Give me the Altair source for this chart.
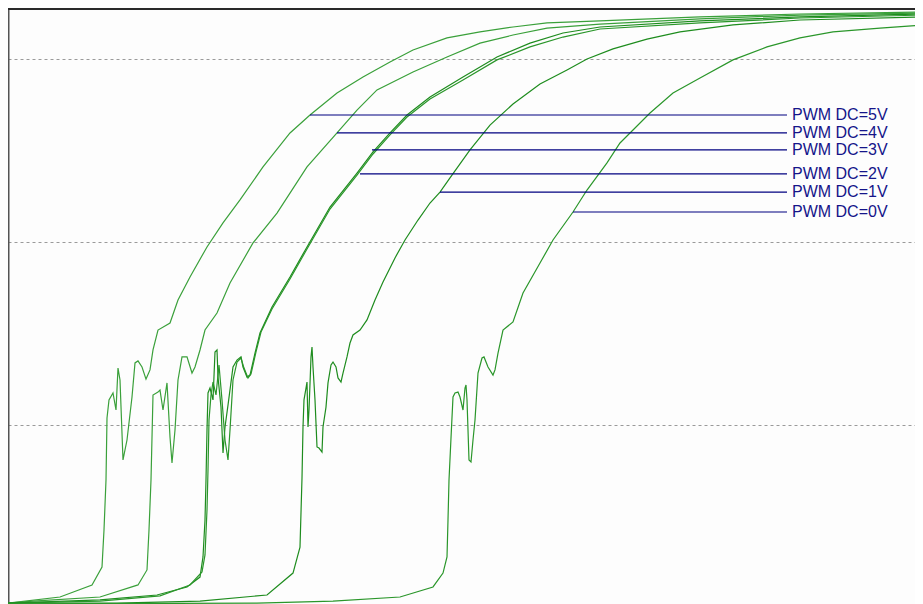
import altair as alt
import pandas as pd

# ---- data (time in ms, voltage in V) ----
series = ["PWM DC=5V", "PWM DC=4V", "PWM DC=3V", "PWM DC=2V", "PWM DC=1V", "PWM DC=0V"]

t_5v = [0.0, 5.2, 8.4, 9.4, 9.6, 9.8, 9.9, 10.1, 10.5, 10.8, 11.0, 11.2, 11.5, 11.9, 12.4, 12.7, 13.0, 13.4, 13.8, 14.2, 14.5, 15.0,
        16.2, 17.0, 18.2, 19.9, 21.5, 23.2, 25.5, 28.2, 30.2, 32.9, 35.5, 38.2, 40.5, 43.9, 47.2, 50.5, 53.9, 59.2, 69.2, 79.2, 91.5]
v_5v = [0.027, 0.060, 0.126, 0.224, 0.426, 0.699, 1.038, 1.137, 1.175, 1.082, 1.311, 1.246, 0.809, 0.918, 1.153, 1.339, 1.350, 1.317, 1.251, 1.301, 1.410, 1.519,
        1.557, 1.683, 1.809, 1.973, 2.104, 2.230, 2.410, 2.596, 2.694, 2.814, 2.902, 2.984, 3.049, 3.115, 3.148, 3.175, 3.197, 3.208, 3.230, 3.246, 3.257]

t_4v = [0.0, 2.5, 9.2, 13.0, 13.9, 14.1, 14.3, 14.5, 15.0, 15.2, 15.5, 15.9, 16.2, 16.4, 16.7, 17.0, 17.4, 17.9, 18.4, 18.7, 19.2, 19.7,
        20.9, 22.2, 24.5, 26.9, 29.9, 32.9, 34.9, 36.9, 40.5, 43.9, 47.2, 50.5, 53.9, 59.2, 69.2, 79.2, 91.5]
v_4v = [0.027, 0.038, 0.060, 0.126, 0.208, 0.426, 0.699, 1.164, 1.180, 1.191, 1.082, 1.230, 0.934, 0.792, 0.973, 1.246, 1.372, 1.372, 1.284, 1.317, 1.410, 1.519,
        1.612, 1.776, 1.995, 2.158, 2.410, 2.596, 2.721, 2.831, 2.929, 3.011, 3.087, 3.131, 3.169, 3.191, 3.219, 3.240, 3.251]

t_3v = [0.0, 9.2, 14.9, 17.9, 19.2, 19.5, 19.7, 19.8, 19.9, 20.0, 20.2, 20.5, 20.7, 20.9, 21.0, 21.3, 21.5, 21.7, 22.0, 22.5, 22.9, 23.3,
        23.5, 23.9, 24.2, 24.7, 25.2, 26.4, 28.2, 29.9, 32.2, 34.9, 36.5, 38.2, 39.9, 42.2, 45.5, 48.9, 52.2, 55.5, 59.2, 69.2, 79.2, 91.5]
v_3v = [0.027, 0.044, 0.071, 0.115, 0.169, 0.279, 0.481, 0.699, 0.973, 1.175, 1.202, 1.137, 1.399, 1.410, 1.262, 1.098, 0.847, 0.989, 1.109, 1.317, 1.355, 1.372,
        1.317, 1.262, 1.273, 1.393, 1.503, 1.645, 1.809, 1.973, 2.191, 2.377, 2.492, 2.596, 2.694, 2.792, 2.902, 3.011, 3.087, 3.142, 3.175, 3.208, 3.230, 3.246]

t_2v = [0.0, 9.2, 15.2, 18.2, 19.4, 19.7, 19.9, 20.0, 20.1, 20.3, 20.5, 20.8, 21.1, 21.4, 21.7, 22.0, 22.2, 22.5, 22.9, 23.3, 23.6, 24.0,
        24.3, 24.8, 25.3, 26.4, 28.2, 29.9, 32.2, 34.9, 36.5, 38.2, 39.9, 42.2, 45.5, 48.9, 52.2, 55.5, 59.2, 69.2, 79.2, 91.5]
v_2v = [0.027, 0.038, 0.066, 0.126, 0.197, 0.290, 0.536, 0.754, 1.027, 1.164, 1.235, 1.164, 1.328, 1.137, 0.918, 0.809, 0.973, 1.246, 1.344, 1.366, 1.311, 1.257,
        1.279, 1.399, 1.508, 1.634, 1.798, 1.962, 2.180, 2.366, 2.481, 2.585, 2.683, 2.781, 2.885, 2.995, 3.066, 3.120, 3.164, 3.197, 3.224, 3.240]

t_1v = [0.0, 10.9, 19.2, 25.9, 28.5, 29.2, 29.4, 29.5, 29.6, 29.8, 29.9, 30.0, 30.1, 30.3, 30.4, 30.5, 30.7, 30.9, 31.1, 31.4, 31.5, 31.8,
        32.0, 32.3, 32.5, 32.8, 33.0, 33.3, 33.5, 33.9, 34.2, 34.5, 35.2, 35.9, 36.7, 37.5, 38.7, 39.7, 41.0, 42.2, 43.2, 44.2, 46.2, 48.2,
        50.5, 53.2, 55.9, 57.9, 60.5, 63.9, 67.2, 72.5, 79.2, 91.5]
v_1v = [0.027, 0.027, 0.038, 0.071, 0.191, 0.333, 0.710, 0.989, 1.137, 1.202, 1.235, 0.989, 1.082, 1.372, 1.426, 1.317, 1.137, 0.880, 0.874, 0.852, 0.989, 1.098,
        1.230, 1.328, 1.344, 1.317, 1.257, 1.235, 1.284, 1.372, 1.448, 1.492, 1.519, 1.574, 1.683, 1.781, 1.913, 2.011, 2.120, 2.213, 2.273, 2.350, 2.503, 2.639,
        2.754, 2.863, 2.940, 3.000, 3.055, 3.109, 3.148, 3.186, 3.213, 3.230]

t_0v = [0.0, 24.9, 32.5, 39.2, 42.5, 43.5, 43.9, 44.0, 44.1, 44.3, 44.5, 44.7, 45.0, 45.2, 45.5, 45.7, 45.8, 45.9, 46.1, 46.3, 46.5, 46.7,
        47.0, 47.4, 47.6, 48.0, 48.5, 48.7, 49.0, 49.5, 50.5, 51.5, 53.2, 54.5, 56.5, 57.9, 59.9, 61.2, 62.5, 64.2, 66.5, 69.2, 72.5, 75.9,
        79.2, 82.5, 87.2, 91.5]
v_0v = [0.022, 0.027, 0.038, 0.060, 0.115, 0.191, 0.279, 0.481, 0.699, 0.929, 1.153, 1.175, 1.180, 1.153, 1.082, 1.202, 1.219, 1.137, 0.809, 0.798, 0.918, 1.027,
        1.284, 1.366, 1.372, 1.317, 1.273, 1.301, 1.393, 1.519, 1.563, 1.721, 1.885, 2.011, 2.164, 2.284, 2.432, 2.541, 2.612, 2.705, 2.814, 2.896, 2.995, 3.066,
        3.115, 3.148, 3.169, 3.186]

# label leader lines: start point on each curve, common end, text position
label_t_start = [30.2, 32.9, 36.4, 35.2, 43.2, 56.5]
label_v = [2.694, 2.596, 2.503, 2.372, 2.273, 2.164]
label_t_end = 77.9
label_t_text = 78.4

grid_values = [1, 2, 3]
line_colors = ["#3aa03a", "#3aa03a", "#1e8c1e", "#2a962a", "#1e8c1e", "#2a962a"]

# ---- build tables ----
curves = [(t_5v, v_5v), (t_4v, v_4v), (t_3v, v_3v), (t_2v, v_2v), (t_1v, v_1v), (t_0v, v_0v)]
rows = []
for name, (ts, vs) in zip(series, curves):
    for i, (t, v) in enumerate(zip(ts, vs)):
        rows.append({"series": name, "t": t, "v": v, "i": i})
df = pd.DataFrame(rows)

lab = pd.DataFrame({"series": series, "t0": label_t_start, "t1": [label_t_end] * 6,
                    "tt": [label_t_text] * 6, "v": label_v})

W, H = 907, 600
T_MAX = 90.7
V_MAX = 600 / 183

xs = alt.Scale(domain=[0, T_MAX], nice=False, zero=False)
ys = alt.Scale(domain=[0, V_MAX], nice=False, zero=False)

lines = alt.Chart(df).mark_line(strokeWidth=1.2, clip=True).encode(
    x=alt.X("t:Q", scale=xs, axis=None),
    y=alt.Y("v:Q", scale=ys, axis=alt.Axis(values=grid_values, grid=True, gridDash=[3, 3],
                                           gridColor="#9a9a9a", gridWidth=1, labels=False, ticks=False,
                                           title=None, domain=True, domainColor="#555555", domainWidth=2)),
    color=alt.Color("series:N", scale=alt.Scale(domain=series, range=line_colors), legend=None),
    order="i:Q",
)

leaders = alt.Chart(lab).mark_rule(color="#000080", strokeWidth=1.2).encode(
    x=alt.X("t0:Q", scale=xs), x2="t1:Q", y=alt.Y("v:Q", scale=ys)
)

texts = alt.Chart(lab).mark_text(align="left", baseline="middle", font="Liberation Sans",
                                 fontSize=16, color="#15158a").encode(
    x=alt.X("tt:Q", scale=xs), y=alt.Y("v:Q", scale=ys), text="series:N"
)

top_border = alt.Chart(lab).mark_rule(color="#2a2a2a", strokeWidth=2).encode(
    x=alt.value(0), x2=alt.value(W), y=alt.value(1)
)

chart = alt.layer(lines, leaders, texts, top_border).properties(
    width=W, height=H, padding=0, autosize=alt.AutoSizeParams(type="none"), background="#fdfdfd"
).configure_view(stroke=None)

chart.save("out.html", embed_options={"renderer": "svg", "actions": False})
